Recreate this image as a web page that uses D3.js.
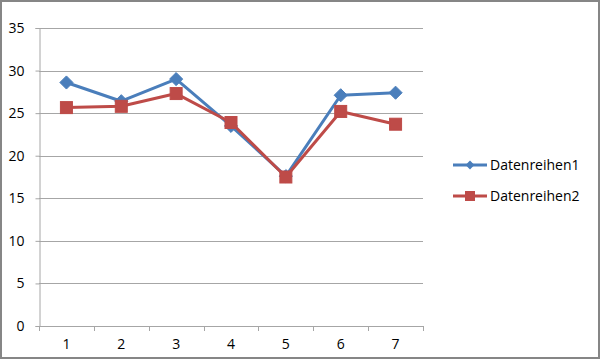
<!doctype html>
<html lang="de">
<head>
<meta charset="UTF-8">
<title>Datenreihen</title>
<style>
    body { margin: 0; padding: 0; background: #fff; }
    svg { display: block; }
    text { font-family: "Open Sans", "Liberation Sans", Arial, sans-serif; fill: #000; }
</style>
</head>
<body>
<svg id="chart" width="600" height="359"></svg>
<script src="https://cdn.jsdelivr.net/npm/d3@7/dist/d3.min.js"></script>
<script>
    // Daten
    const categories = ["1", "2", "3", "4", "5", "6", "7"];
    const datenreihen1 = [28.6, 26.4, 29.0, 23.5, 17.6, 27.1, 27.4];
    const datenreihen2 = [25.65, 25.8, 27.3, 23.9, 17.5, 25.2, 23.7];
    const yTicks = [0, 5, 10, 15, 20, 25, 30, 35];
    const seriesNames = ["Datenreihen1", "Datenreihen2"];
    const colors = ["#4A7EBB", "#BE4B48"];

    const W = 600, H = 359;
    const plot = { left: 39, right: 423, top: 28, bottom: 326 };

    const svg = d3.select("#chart");

    // Rahmen
    svg.append("rect")
        .attr("x", 1).attr("y", 1)
        .attr("width", W - 2).attr("height", H - 2)
        .attr("fill", "#fff")
        .attr("stroke", "#868686")
        .attr("stroke-width", 2);

    const x = d3.scaleBand()
        .domain(categories)
        .range([plot.left, plot.right]);

    const y = d3.scaleLinear()
        .domain([0, 35])
        .range([plot.bottom, plot.top]);

    // Gitterlinien
    svg.append("g")
        .selectAll("line")
        .data(yTicks.filter(d => d > 0))
        .join("line")
        .attr("x1", plot.left).attr("x2", plot.right)
        .attr("y1", d => Math.round(y(d)) + 0.5)
        .attr("y2", d => Math.round(y(d)) + 0.5)
        .attr("stroke", "#a6a6a6")
        .attr("stroke-width", 1);

    // Y-Achse
    const yAxis = svg.append("g")
        .attr("transform", `translate(${plot.left + 0.5},0)`)
        .call(d3.axisLeft(y).tickValues(yTicks).tickSize(4).tickPadding(11));
    yAxis.select(".domain").attr("stroke", "#a6a6a6");
    yAxis.selectAll(".tick line").attr("stroke", "#a6a6a6");
    yAxis.selectAll("text")
        .style("font-size", "14px")
        .attr("fill", "#000");

    // X-Achse
    const xAxis = svg.append("g")
        .attr("transform", `translate(0,${plot.bottom + 0.5})`)
        .call(d3.axisBottom(x).tickSize(0).tickPadding(13));
    xAxis.select(".domain").attr("stroke", "#a6a6a6").attr("d", `M${plot.left},0H${plot.right}`);
    xAxis.selectAll("text")
        .style("font-size", "14px")
        .attr("fill", "#000");

    // Teilstriche an den Kategoriegrenzen
    const bounds = categories.map(c => x(c)).concat([x(categories[categories.length - 1]) + x.bandwidth()]);
    svg.append("g")
        .selectAll("line")
        .data(bounds)
        .join("line")
        .attr("x1", d => Math.round(d) + 0.5).attr("x2", d => Math.round(d) + 0.5)
        .attr("y1", plot.bottom).attr("y2", plot.bottom + 5)
        .attr("stroke", "#a6a6a6");

    const cx = (d, i) => x(categories[i]) + x.bandwidth() / 2;
    const line = d3.line().x(cx).y(d => y(d));

    const allSeries = [datenreihen1, datenreihen2];

    allSeries.forEach((vals, s) => {
        svg.append("path")
            .datum(vals)
            .attr("fill", "none")
            .attr("stroke", colors[s])
            .attr("stroke-width", 3)
            .attr("stroke-linejoin", "round")
            .attr("d", line);
    });

    // Markierungen
    svg.append("g")
        .selectAll("path")
        .data(datenreihen1)
        .join("path")
        .attr("transform", (d, i) => `translate(${cx(d, i)},${y(d)})`)
        .attr("d", d3.symbol(d3.symbolDiamond2, 110)())
        .attr("fill", colors[0])
        .attr("stroke", colors[0]);

    svg.append("g")
        .selectAll("rect")
        .data(datenreihen2)
        .join("rect")
        .attr("x", (d, i) => cx(d, i) - 6)
        .attr("y", d => y(d) - 6)
        .attr("width", 12).attr("height", 12)
        .attr("fill", colors[1])
        .attr("stroke", colors[1]);

    // Legende
    const legend = svg.append("g");
    seriesNames.forEach((name, s) => {
        const ly = 165 + s * 31;
        legend.append("line")
            .attr("x1", 453).attr("x2", 487)
            .attr("y1", ly).attr("y2", ly)
            .attr("stroke", colors[s])
            .attr("stroke-width", 3);
        if (s === 0) {
            legend.append("path")
                .attr("transform", `translate(470,${ly})`)
                .attr("d", d3.symbol(d3.symbolDiamond2, 50)())
                .attr("fill", colors[s]);
        } else {
            legend.append("rect")
                .attr("x", 465).attr("y", ly - 5)
                .attr("width", 10).attr("height", 10)
                .attr("fill", colors[s]);
        }
        legend.append("text")
            .attr("x", 490).attr("y", ly)
            .attr("dy", "0.35em")
            .style("font-size", "14px")
            .text(name);
    });
</script>
</body>
</html>
